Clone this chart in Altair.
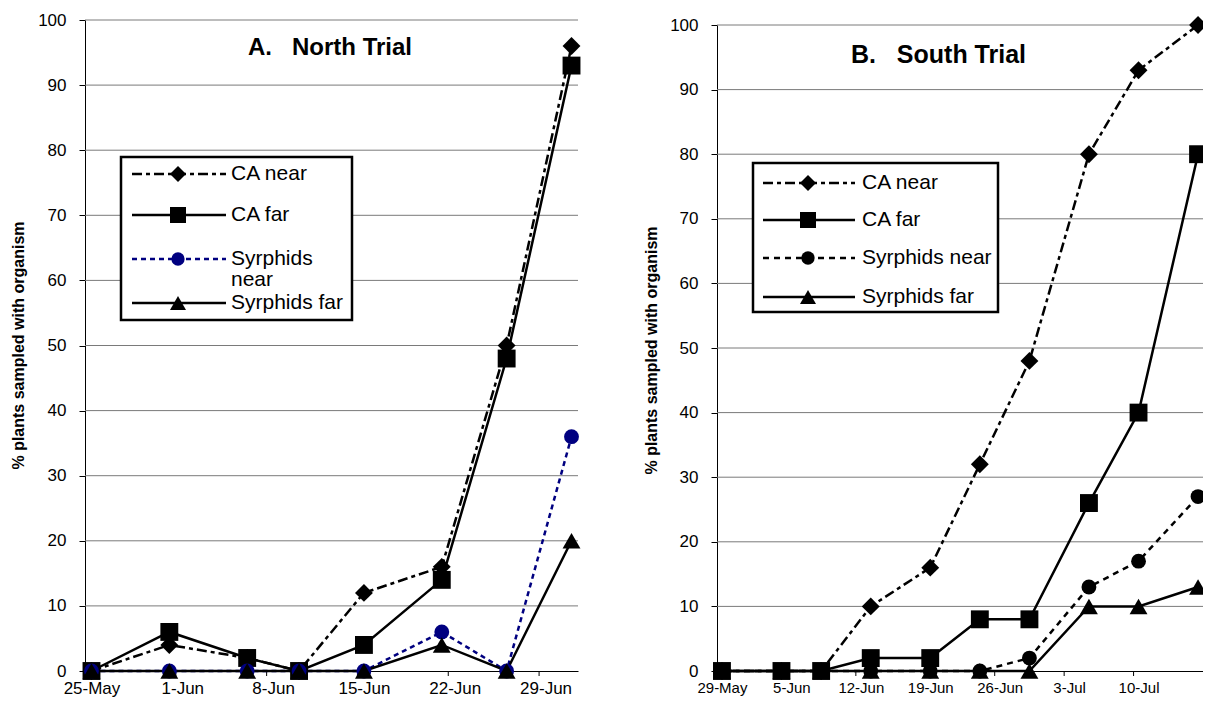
import altair as alt
import pandas as pd

FONT = "Liberation Sans"

# ---------------- data ----------------
series_names = ["CA near", "CA far", "Syrphids near", "Syrphids far"]

north_dates = ["2000-05-25", "2000-05-31", "2000-06-06", "2000-06-10",
               "2000-06-15", "2000-06-21", "2000-06-26", "2000-07-01"]
north_ca_near = [0, 4, 2, 0, 12, 16, 50, 96]
north_ca_far = [0, 6, 2, 0, 4, 14, 48, 93]
north_syr_near = [0, 0, 0, 0, 0, 6, 0, 36]
north_syr_far = [0, 0, 0, 0, 0, 4, 0, 20]
north_tick_labels = ["25-May", "1-Jun", "8-Jun", "15-Jun", "22-Jun", "29-Jun"]

south_dates = ["2000-05-29", "2000-06-04", "2000-06-08", "2000-06-13", "2000-06-19",
               "2000-06-24", "2000-06-29", "2000-07-05", "2000-07-10", "2000-07-16"]
south_ca_near = [0, 0, 0, 10, 16, 32, 48, 80, 93, 100]
south_ca_far = [0, 0, 0, 2, 2, 8, 8, 26, 40, 80]
south_syr_near = [0, 0, 0, 0, 0, 0, 2, 13, 17, 27]
south_syr_far = [0, 0, 0, 0, 0, 0, 0, 10, 10, 13]
south_tick_labels = ["29-May", "5-Jun", "12-Jun", "19-Jun", "26-Jun", "3-Jul", "10-Jul"]

y_ticks = [0, 10, 20, 30, 40, 50, 60, 70, 80, 90, 100]
y_title = "% plants sampled with organism"

ONE = pd.DataFrame({"k": [0]})  # single row for decoration marks

# ---------------- layout (pixels, relative to chart plot origin) ----------------
W, H = 1118, 651
PAD = {"left": 77, "top": 12, "right": 0, "bottom": 28}


def make_df(dates, series_values):
    d = pd.to_datetime(pd.Series(dates))
    day = (d - d.iloc[0]).dt.days.tolist()
    rows = []
    for name, vals in zip(series_names, series_values):
        for dd, v in zip(day, vals):
            rows.append({"day": dd, "value": v, "series": name})
    return pd.DataFrame(rows), day[-1]


def styles(syr_near_color, syr_near_dash):
    return {
        "CA near": dict(color="black", dash=[10, 4, 4, 4], shape="diamond", size=320),
        "CA far": dict(color="black", dash=None, shape="square", size=320),
        "Syrphids near": dict(color=syr_near_color, dash=syr_near_dash, shape="circle", size=220),
        "Syrphids far": dict(color="black", dash=None, shape="triangle-up", size=320),
    }


def panel(dates, series_values, tick_labels, xr, ytop, style, legend, title_text,
          title_xy, title_size, xlabel_size, ylabel_size, title_x, title_y):
    df, last = make_df(dates, series_values)
    n_ticks = len(tick_labels)
    label_arr = "[" + ",".join("'%s'" % t for t in tick_labels) + "]"
    x0, x1 = xr
    xscale = alt.Scale(domain=[-0.5, last + 0.5], range=[x0, x1], nice=False, zero=False)
    yscale = alt.Scale(domain=[0, 100], range=[H, ytop], nice=False, zero=False)
    x = alt.X("day:Q", scale=xscale,
              axis=alt.Axis(orient="bottom", values=[7 * i for i in range(n_ticks)],
                            labelExpr=label_arr + "[round(datum.value/7)]",
                            title=None, grid=False, domainColor="black", domainWidth=1,
                            ticks=False, labelPadding=9,
                            labelFont=FONT, labelFontSize=xlabel_size, labelColor="black",
                            labelFlush=False, labelOverlap=False))
    y = alt.Y("value:Q", scale=yscale,
              axis=alt.Axis(orient="left", offset=-x0, values=y_ticks, title=y_title,
                            grid=False, domainColor="black", domainWidth=1,
                            tickColor="black", tickSize=6, labelPadding=13,
                            labelFont=FONT, labelFontSize=ylabel_size, labelColor="black",
                            titleFont=FONT, titleFontSize=16, titleFontWeight="bold",
                            titleColor="black", titleAngle=270, titleBaseline="middle",
                            titleAlign="center", titleX=title_x, titleY=title_y))
    layers = []
    # horizontal gridlines
    layers.append(alt.Chart(pd.DataFrame({"value": y_ticks[1:]})).mark_rule(
        color="#7a7a7a", strokeWidth=1).encode(y=y, x=alt.value(x0), x2=alt.value(x1)))
    # x tick marks between date labels
    layers.append(alt.Chart(pd.DataFrame({"day": [7 * i - 0.5 for i in range(1, n_ticks + 1)
                                                  if 7 * i - 0.5 < last + 0.5]})).mark_rule(
        color="black", strokeWidth=1).encode(x=x, y=alt.value(H), y2=alt.value(H + 5)))
    base = alt.Chart(df)
    for name in series_names:
        st = style[name]
        sub = base.transform_filter(alt.datum.series == name)
        lk = dict(color=st["color"], strokeWidth=2.5)
        if st["dash"]:
            lk["strokeDash"] = st["dash"]
        layers.append(sub.mark_line(**lk).encode(x=x, y=y))
    for name in series_names:
        st = style[name]
        sub = base.transform_filter(alt.datum.series == name)
        layers.append(sub.mark_point(shape=st["shape"], filled=True, size=st["size"],
                                     color=st["color"], opacity=1).encode(x=x, y=y))

    # legend
    lx0, ly0, lx1, ly1 = legend["box"]
    layers.append(alt.Chart(ONE).mark_rect(fill="white", stroke="black", strokeWidth=2.5).encode(
        x=alt.value(lx0), x2=alt.value(lx1), y=alt.value(ly0), y2=alt.value(ly1)))
    sx0, sx1, sm, tx = legend["line_x"], legend["line_x2"], legend["marker_x"], legend["text_x"]
    for name, yy, label_lines in zip(series_names, legend["rows"], legend["labels"]):
        st = style[name]
        rk = dict(color=st["color"], strokeWidth=2.5)
        if st["dash"]:
            rk["strokeDash"] = st["dash"]
        layers.append(alt.Chart(ONE).mark_rule(**rk).encode(
            x=alt.value(sx0), x2=alt.value(sx1), y=alt.value(yy)))
        layers.append(alt.Chart(ONE).mark_point(shape=st["shape"], filled=True, size=st["size"] * 0.8,
                                                color=st["color"], opacity=1).encode(
            x=alt.value(sm), y=alt.value(yy)))
        for k, txt in enumerate(label_lines):
            layers.append(alt.Chart(ONE).mark_text(font=FONT, fontSize=21, align="left",
                                                   baseline="middle", color="black").encode(
                x=alt.value(tx), y=alt.value(yy + 21 * k), text=alt.value(txt)))

    # panel heading
    layers.append(alt.Chart(ONE).mark_text(font=FONT, fontSize=title_size, fontWeight="bold",
                                           align="left", baseline="middle", color="black").encode(
        x=alt.value(title_xy[0]), y=alt.value(title_xy[1]), text=alt.value(title_text)))

    return alt.layer(*layers)


north = panel(
    north_dates, [north_ca_near, north_ca_far, north_syr_near, north_syr_far],
    north_tick_labels, (0, 493), 0, styles("#000080", [5, 4]),
    legend=dict(box=(36, 137, 267, 300), line_x=47, line_x2=141, marker_x=93, text_x=146,
                rows=[154, 195, 239, 283],
                labels=[["CA near"], ["CA far"], ["Syrphids", "near"], ["Syrphids far"]]),
    title_text="A.\u00a0\u00a0\u00a0North Trial", title_xy=(163, 28), title_size=24,
    xlabel_size=17, ylabel_size=17, title_x=-67, title_y=325)

south = panel(
    south_dates, [south_ca_near, south_ca_far, south_syr_near, south_syr_far],
    south_tick_labels, (632, 1118), 5, styles("black", [6, 5]),
    legend=dict(box=(668, 143, 913, 292), line_x=678, line_x2=770, marker_x=723, text_x=777,
                rows=[163, 200, 238, 277],
                labels=[["CA near"], ["CA far"], ["Syrphids near"], ["Syrphids far"]]),
    title_text="B.\u00a0\u00a0\u00a0South Trial", title_xy=(766, 35), title_size=25,
    xlabel_size=15, ylabel_size=17, title_x=-66, title_y=330)

chart = alt.layer(north, south).resolve_scale(
    x="independent", y="independent"
).resolve_axis(
    x="independent", y="independent"
).properties(
    width=W, height=H, autosize=alt.AutoSizeParams(type="none"), padding=PAD
).configure_view(stroke=None)

chart.save("out.html", embed_options={"renderer": "svg", "actions": False})
